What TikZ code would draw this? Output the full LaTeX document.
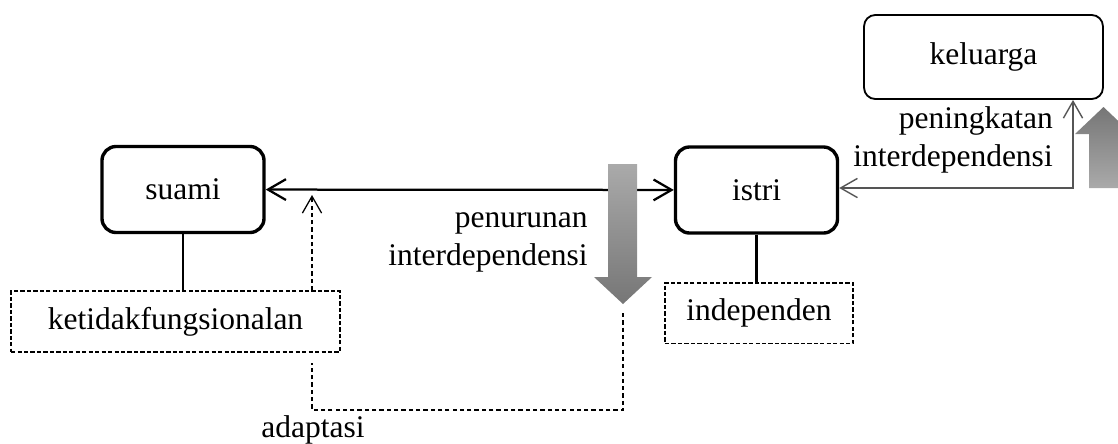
\documentclass[tikz,border=0pt]{standalone}
\usepackage{fontspec}
\setmainfont{Liberation Serif}
\usepackage{xcolor}
\definecolor{lnkgray}{RGB}{85,85,85}
\definecolor{arrlight}{RGB}{170,170,170}
\definecolor{arrdark}{RGB}{118,118,118}
\usetikzlibrary{arrows.meta, positioning, calc}

\begin{document}
\begin{tikzpicture}[x=0.025cm, y=-0.025cm,
  every node/.style={font=\fontsize{22.4}{27}\selectfont},
  person/.style={draw, line width=2.4pt, rounded corners=10pt, minimum width=4.05cm, minimum height=2.15cm, inner sep=0pt},
  groupbox/.style={draw, line width=1.3pt, rounded corners=8pt, minimum width=5.97cm, minimum height=2.1cm, inner sep=0pt},
  traitbox/.style={draw, line width=1.3pt, dash pattern=on 3pt off 1.6pt, minimum height=1.52cm, inner sep=0pt},
  mainlink/.style={line width=1.6pt, arrows={Straight Barb[length=0.45cm, width=0.52cm]-Straight Barb[length=0.45cm, width=0.52cm]}},
  sidelink/.style={line width=1pt, lnkgray, arrows={Straight Barb[length=0.42cm, width=0.48cm]-Straight Barb[length=0.42cm, width=0.48cm]}},
  dashlink/.style={line width=0.9pt, dash pattern=on 3pt off 2.2pt}]
  \useasboundingbox (0,0) rectangle (1118,443);

  % Persons and family
  \node[person] (suami) at (183,189.5) {suami};
  \node[person] (istri) at (756.5,190) {istri};
  \node[groupbox] (keluarga) at (983.5,57) {keluarga};

  % Traits
  \node[traitbox, minimum width=8.22cm] (ketidak) at (175.5,321.5) {ketidakfungsionalan};
  \node[traitbox, minimum width=4.7cm] (indep) at (759,313) {independen};
  \draw[line width=0.9pt] (suami.south) -- (suami.south |- ketidak.north);
  \draw[line width=1.5pt] (istri.south) -- (istri.south |- indep.north);

  % Husband -- wife
  \draw[mainlink] (suami) -- (istri);

  % Wife -- family
  \coordinate (turn) at (1073,188);
  \draw[sidelink] (keluarga.south -| turn) -- (turn) -- (istri.east |- turn);

  % Adaptation loop
  \coordinate (adTip) at (312,195);
  \coordinate (adStart) at (623,313);
  \coordinate (adCorner) at (623,410);
  \coordinate (adEnd) at (312,363);
  \draw[dashlink, -{Straight Barb[length=0.42cm, width=0.48cm]}] (ketidak.north -| adTip) -- (adTip);
  \draw[dashlink] (adStart) -- (adCorner) -| (adEnd);

  % Block arrows
  \shade[top color=arrlight, bottom color=arrdark] (608,164) -- (637,164) -- (637,277) -- (652,277) -- (623,304) -- (594,277) -- (608,277) -- cycle;
  \shade[top color=arrdark, bottom color=arrlight] (1089,188) -- (1089,134) -- (1075,134) -- (1103.5,107) -- (1132,134) -- (1118,134) -- (1118,188) -- cycle;

  % Labels
  \node[anchor=east, align=right, inner sep=0pt] (lblDown) at (588,242) {penurunan\\interdependensi};
  \node[anchor=east, align=right, inner sep=0pt] (lblUp) at (1053,140) {peningkatan\\interdependensi};
  \node[inner sep=0pt] (lblAdapt) at (313,430) {adaptasi};
\end{tikzpicture}
\end{document}
